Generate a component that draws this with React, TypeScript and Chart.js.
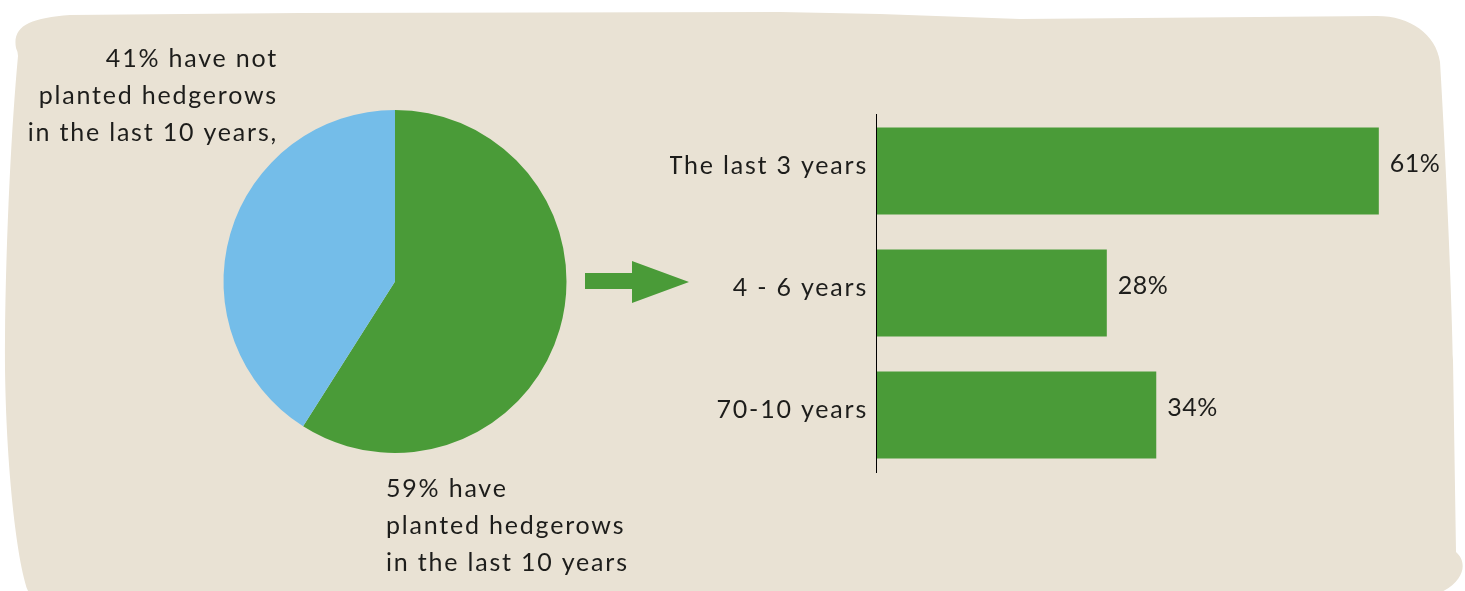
import React, { useEffect, useRef } from "react";
import { Chart, registerables } from "chart.js";

Chart.register(...registerables);

// ---- data ----
const pieCategories = ["Have planted hedgerows", "Have not planted hedgerows"];
const pieValues = [59, 41];
const barCategories = ["The last 3 years", "4 - 6 years", "70-10 years"];
const barValues = [61, 28, 34];
const topNoteLines = [`${pieValues[1]}% have not`, "planted hedgerows", "in the last 10 years,"];
const bottomNoteLines = [`${pieValues[0]}% have`, "planted hedgerows", "in the last 10 years"];

// ---- styles ----
const GREEN = "#4a9b38";
const BLUE = "#74bde9";
const BEIGE = "#e9e2d4";
const INK = "#1d1d1b";
const FONT_FAMILY = "Lato, 'Open Sans', sans-serif";
const FONT_SIZE = 25;
const LETTER_SPACING = "1.8px";
const W = 1465;
const H = 591;

function drawBlob(ctx: CanvasRenderingContext2D) {
  ctx.save();
  ctx.fillStyle = BEIGE;
  ctx.beginPath();
  ctx.moveTo(16, 48);
  ctx.bezierCurveTo(12, 26, 30, 18, 70, 15);
  ctx.lineTo(300, 13);
  ctx.lineTo(780, 12);
  ctx.lineTo(880, 14);
  ctx.lineTo(1020, 19);
  ctx.lineTo(1377, 16);
  ctx.bezierCurveTo(1410, 16, 1436, 34, 1440, 62);
  ctx.bezierCurveTo(1446, 160, 1452, 300, 1453, 360);
  ctx.lineTo(1456, 552);
  ctx.bezierCurveTo(1468, 562, 1466, 584, 1432, 596);
  ctx.lineTo(30, 596);
  ctx.bezierCurveTo(14, 560, 4, 430, 5, 340);
  ctx.bezierCurveTo(6, 230, 12, 120, 18, 56);
  ctx.quadraticCurveTo(18, 52, 16, 48);
  ctx.closePath();
  ctx.fill();
  ctx.restore();
}

function drawArrow(ctx: CanvasRenderingContext2D) {
  ctx.save();
  ctx.fillStyle = GREEN;
  ctx.beginPath();
  ctx.moveTo(585, 273);
  ctx.lineTo(632, 273);
  ctx.lineTo(632, 261);
  ctx.lineTo(689, 282);
  ctx.lineTo(632, 303);
  ctx.lineTo(632, 289);
  ctx.lineTo(585, 289);
  ctx.closePath();
  ctx.fill();
  ctx.restore();
}

function drawNotes(ctx: CanvasRenderingContext2D) {
  ctx.save();
  ctx.fillStyle = INK;
  ctx.font = `${FONT_SIZE}px ${FONT_FAMILY}`;
  (ctx as any).letterSpacing = LETTER_SPACING;
  ctx.textBaseline = "middle";
  ctx.textAlign = "right";
  topNoteLines.forEach((t, i) => ctx.fillText(t, 278, 58.5 + i * 37));
  ctx.textAlign = "left";
  bottomNoteLines.forEach((t, i) => ctx.fillText(t, 386, 489 + i * 37));
  ctx.restore();
}

const pieDecor = {
  id: "pieDecor",
  beforeDraw(chart: any) {
    drawBlob(chart.ctx);
  },
  afterDraw(chart: any) {
    drawArrow(chart.ctx);
    drawNotes(chart.ctx);
  },
};

const barDecor = {
  id: "barDecor",
  beforeDraw(chart: any) {
    (chart.ctx as any).letterSpacing = LETTER_SPACING;
  },
  afterDatasetsDraw(chart: any) {
    const ctx = chart.ctx as CanvasRenderingContext2D;
    const area = chart.chartArea;
    ctx.save();
    // axis line
    ctx.strokeStyle = "#000";
    ctx.lineWidth = 1;
    ctx.beginPath();
    ctx.moveTo(area.left + 0.5, area.top + 4);
    ctx.lineTo(area.left + 0.5, area.bottom - 3);
    ctx.stroke();
    // value labels
    ctx.fillStyle = INK;
    ctx.font = `${FONT_SIZE}px ${FONT_FAMILY}`;
    (ctx as any).letterSpacing = "0.5px";
    ctx.textAlign = "left";
    ctx.textBaseline = "middle";
    const meta = chart.getDatasetMeta(0);
    meta.data.forEach((bar: any, i: number) => {
      ctx.fillText(`${barValues[i]}%`, bar.x + 11, bar.y - 7);
    });
    ctx.restore();
  },
};

export default function App() {
  const pieRef = useRef<HTMLCanvasElement>(null);
  const barRef = useRef<HTMLCanvasElement>(null);

  useEffect(() => {
    const pie = new Chart(pieRef.current!, {
      type: "pie",
      data: {
        labels: pieCategories,
        datasets: [
          {
            data: pieValues,
            backgroundColor: [GREEN, BLUE],
            borderWidth: 0,
          },
        ],
      },
      options: {
        responsive: false,
        animation: false,
        devicePixelRatio: 1,
        layout: { padding: { left: 223, right: 898, top: 110, bottom: 138 } },
        plugins: { legend: { display: false }, tooltip: { enabled: false } },
      },
      plugins: [pieDecor],
    });

    const bar = new Chart(barRef.current!, {
      type: "bar",
      data: {
        labels: barCategories,
        datasets: [
          {
            data: barValues,
            backgroundColor: GREEN,
            borderWidth: 0,
            categoryPercentage: 1,
            barPercentage: 0.713,
          },
        ],
      },
      options: {
        indexAxis: "y",
        responsive: false,
        animation: false,
        devicePixelRatio: 1,
        layout: { padding: { left: 670, right: 12, top: 110, bottom: 115 } },
        plugins: { legend: { display: false }, tooltip: { enabled: false } },
        scales: {
          x: { display: false, min: 0, max: 70 },
          y: {
            grid: { display: false, drawTicks: false },
            border: { display: false },
            afterFit: (scale: any) => {
              scale.width = 206;
            },
            ticks: {
              color: INK,
              padding: 8,
              labelOffset: -5,
              font: { family: FONT_FAMILY, size: FONT_SIZE },
            },
          },
        },
      },
      plugins: [barDecor],
    });

    return () => {
      pie.destroy();
      bar.destroy();
    };
  }, []);

  return (
    <div style={{ position: "fixed", left: 0, top: 0, width: W, height: H, background: "#fff" }}>
      <canvas ref={pieRef} width={W} height={H} style={{ position: "absolute", left: 0, top: 0 }} />
      <canvas ref={barRef} width={W} height={H} style={{ position: "absolute", left: 0, top: 0 }} />
    </div>
  );
}
